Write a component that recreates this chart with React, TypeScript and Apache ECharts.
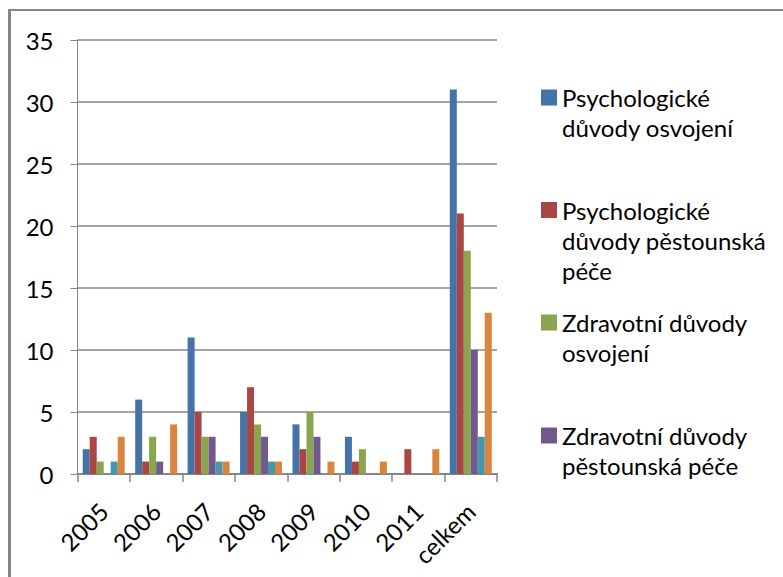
import React, { useEffect, useRef } from "react";
import * as echarts from "echarts";

const categories = ["2005", "2006", "2007", "2008", "2009", "2010", "2011", "celkem"];
const seriesNames = [
  "Psychologické důvody osvojení",
  "Psychologické důvody pěstounská péče",
  "Zdravotní důvody osvojení",
  "Zdravotní důvody pěstounská péče",
  "Jiné důvody osvojení",
  "Jiné důvody pěstounská péče",
];
const legendLabels = [
  "Psychologické\ndůvody osvojení",
  "Psychologické\ndůvody pěstounská\npéče",
  "Zdravotní důvody\nosvojení",
  "Zdravotní důvody\npěstounská péče",
];
const psychOsvojeni = [2, 6, 11, 5, 4, 3, 0, 31];
const psychPestoun = [3, 1, 5, 7, 2, 1, 2, 21];
const zdravOsvojeni = [1, 3, 3, 4, 5, 2, 0, 18];
const zdravPestoun = [0, 1, 3, 3, 3, 0, 0, 10];
const jineOsvojeni = [1, 0, 1, 1, 0, 0, 0, 3];
const jinePestoun = [3, 4, 1, 1, 1, 1, 2, 13];
const yTicks = { min: 0, max: 35, interval: 5 };

const colors = ["#4572A7", "#AA4643", "#89A54E", "#71588F", "#4198AF", "#DB843D"];
const FONT = "Lato";

export default function App() {
  const ref = useRef<HTMLDivElement>(null);
  useEffect(() => {
    document.body.style.margin = "0";
    const chart = echarts.init(ref.current!, null, { renderer: "svg" });
    const data = [psychOsvojeni, psychPestoun, zdravOsvojeni, zdravPestoun, jineOsvojeni, jinePestoun];
    const lineH = 30;
    const centers = [97.5, 210, 322.5, 435.5];
    const legends = legendLabels.map((lab, i) => {
      const n = lab.split("\n").length;
      const padded = "\n".repeat(n - 1) + lab;
      return {
        data: [seriesNames[i]],
        left: 541,
        top: centers[i] - (lineH * (2 * n - 1)) / 2,
        padding: 0,
        orient: "vertical",
        itemWidth: 16,
        itemHeight: 16,
        icon: "rect",
        selectedMode: false,
        formatter: () => padded,
        textStyle: {
          fontFamily: FONT,
          fontSize: 24,
          color: "#000",
          lineHeight: lineH,
        },
      };
    });
    chart.setOption({
      animation: false,
      color: colors,
      textStyle: { fontFamily: FONT },
      legend: legends,
      grid: { left: 77.5, right: 286, top: 40, bottom: 103 },
      xAxis: {
        type: "category",
        data: categories,
        axisLine: { lineStyle: { color: "#868686", width: 2 } },
        axisTick: { show: true, length: 8, lineStyle: { color: "#868686", width: 1.5 } },
        axisLabel: { rotate: 45, fontSize: 24, color: "#000", fontFamily: FONT, margin: 33, interval: 0 },
      },
      yAxis: {
        type: "value",
        min: yTicks.min,
        max: yTicks.max,
        interval: yTicks.interval,
        axisLine: { show: true, lineStyle: { color: "#868686", width: 1 } },
        axisTick: { show: true, length: 7, lineStyle: { color: "#868686" } },
        axisLabel: { fontSize: 24, color: "#000", fontFamily: FONT, margin: 24 },
        splitLine: { lineStyle: { color: "#868686", width: 1.5 } },
      },
      series: seriesNames.map((name, i) => ({
        name,
        type: "bar",
        data: data[i],
        barGap: "0%",
        barCategoryGap: "20%",
        itemStyle: { color: colors[i] },
      })),
      graphic: [
        { type: "rect", shape: { x: 8, y: 9, width: 3, height: 568 }, style: { fill: "#868686" }, silent: true },
        { type: "rect", shape: { x: 8, y: 9, width: 775, height: 2 }, style: { fill: "#868686" }, silent: true },
      ],
    });
    return () => chart.dispose();
  }, []);
  return <div ref={ref} style={{ width: 783, height: 577 }} />;
}
